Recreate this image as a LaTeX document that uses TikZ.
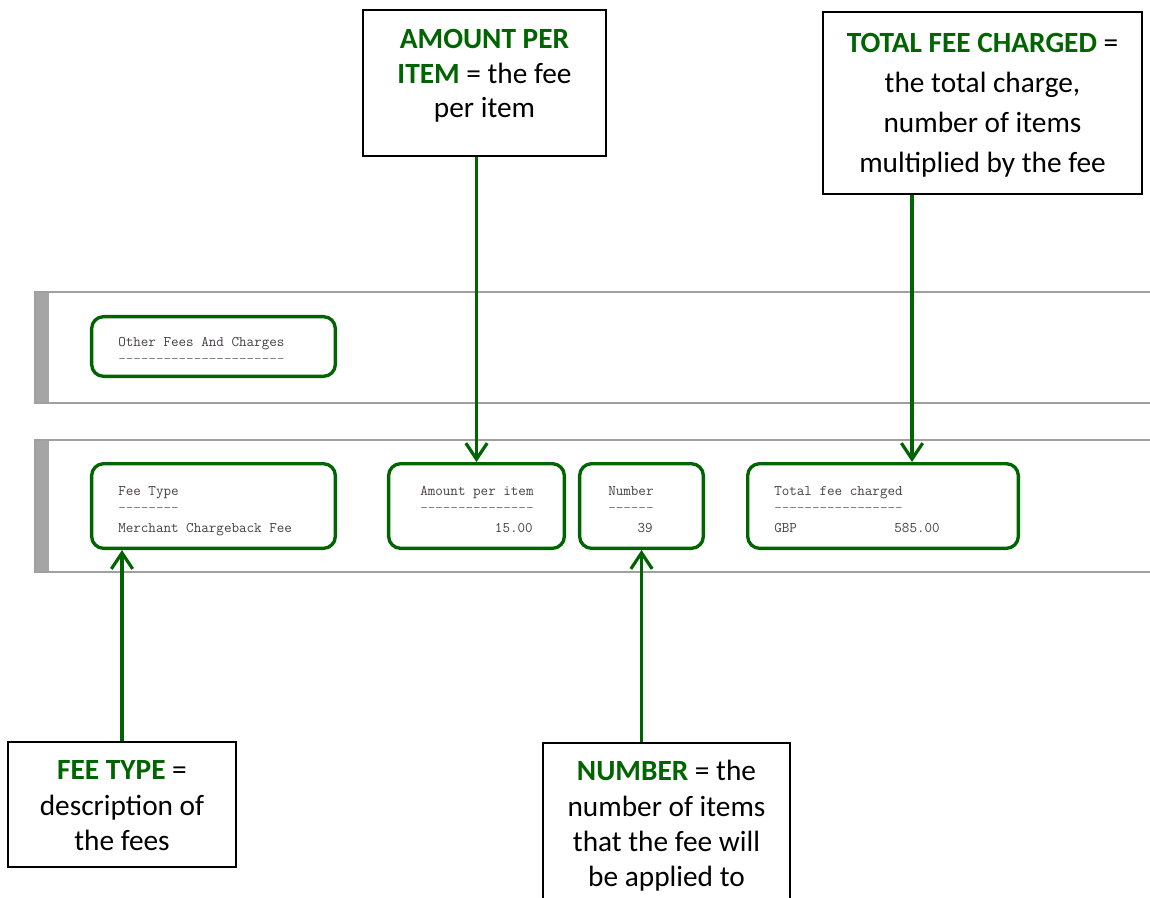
\documentclass[tikz,border=0pt]{standalone}
\usepackage{fontspec}
\setmainfont{Carlito}
\usetikzlibrary{arrows.meta}
\definecolor{grn}{RGB}{0,100,0}
\definecolor{monotxt}{RGB}{72,62,72}
\definecolor{monodash}{RGB}{120,120,145}
\definecolor{bandline}{RGB}{160,160,160}
\definecolor{bandstrip}{RGB}{165,165,165}
\newcommand\cbox[5]{\parbox[c][#1][t]{#2}{\centering\fontsize{22pt}{#4}\selectfont\rule{0pt}{#3}#5\par}}
\newcommand\gr[1]{{\bfseries\color{grn}#1}}
\tikzset{
  callout/.style={draw=black, line width=1.2pt, inner sep=0pt, fill=white},
  gbox/.style={draw=grn, line width=2.5pt, rounded corners=9pt, inner sep=0pt},
  mtext/.style={inner sep=0pt, text=monotxt, font=\ttfamily\fontsize{11pt}{13pt}\selectfont\addfontfeatures{FakeBold=0.8}},
  mdash/.style={mtext, text=monodash},
  arr/.style={draw=grn, line width=2.4pt, -{Straight Barb[length=12pt,width=16pt]}},
  bandborder/.style={draw=bandline, line width=1.1pt},
}
\begin{document}
\begin{tikzpicture}[x=0.75pt,y=-0.75pt]
\useasboundingbox[fill=white] (0,0) rectangle (1150,897);

% bands
\fill[bandstrip] (35,292) rectangle (49,403);
\draw[bandborder] (35,292) rectangle (1170,403);
\fill[bandstrip] (35,440) rectangle (49,572);
\draw[bandborder] (35,440) rectangle (1170,572);

% green boxes
\node[gbox, minimum width=182.8pt, minimum height=44.8pt] (other) at (213.5,346.5) {};
\node[gbox, minimum width=182.8pt, minimum height=63.5pt] (feebox) at (213.5,506) {};
\node[gbox, minimum width=131.8pt, minimum height=63.5pt] (amtbox) at (476.5,506) {};
\node[gbox, minimum width=92.8pt, minimum height=63.5pt] (numbox) at (641.5,506) {};
\node[gbox, minimum width=203pt, minimum height=63.5pt] (totbox) at (883,506) {};

% mono texts
\node[mtext, anchor=base west] (t1) at (118,346.5) {Other Fees And Charges};
\node[mdash, anchor=base west] (d1) at (118,363) {----------------------};
\node[mtext, anchor=base west] (t2) at (118,495) {Fee Type};
\node[mdash, anchor=base west] (d2) at (118,512) {--------};
\node[mtext, anchor=base west] (v2) at (118,532) {Merchant Chargeback Fee};
\node[mtext, anchor=base west] (t3) at (420,495) {Amount per item};
\node[mdash, anchor=base west] (d3) at (420,512) {---------------};
\node[mtext, anchor=base east] (v3) at (533,532) {15.00};
\node[mtext, anchor=base west] (t4) at (608,495) {Number};
\node[mdash, anchor=base west] (d4) at (608,512) {------};
\node[mtext, anchor=base east] (v4) at (653,532) {39};
\node[mtext, anchor=base west] (t5) at (774,495) {Total fee charged};
\node[mdash, anchor=base west] (d5) at (774,512) {-----------------};
\node[mtext, anchor=base west] (g5) at (774,532) {GBP};
\node[mtext, anchor=base east] (v5) at (940,532) {585.00};

% callouts
\node[callout] (amtcall) at (484.5,83) {\cbox{109.8pt}{182.5pt}{29.25pt}{25.9pt}{\gr{AMOUNT PER}\\\gr{ITEM} = the fee\\per item}};
\node[callout] (totcall) at (982.5,103) {\cbox{136.8pt}{239.5pt}{30.75pt}{29.8pt}{\gr{TOTAL FEE CHARGED} =\\the total charge,\\number of items\\multiplied by the fee}};
\node[callout] (feecall) at (122,804.5) {\cbox{94pt}{171.3pt}{28.5pt}{26.6pt}{\gr{FEE TYPE} =\\description of\\the fees}};
\node[callout] (numcall) at (666.5,826) {\cbox{124.8pt}{185.5pt}{28.5pt}{26.5pt}{\gr{NUMBER} = the\\number of items\\that the fee will\\be applied to}};

% connectors
\coordinate (totin) at ([xshift=21.75pt]totbox.north);
\draw[arr] (amtbox.north |- amtcall.south) -- (amtbox.north);
\draw[arr] (totin |- totcall.south) -- (totin);
\draw[arr] (feecall.north) -- (feecall.north |- feebox.south);
\draw[arr] (numbox.south |- numcall.north) -- (numbox.south);
\end{tikzpicture}
\end{document}
